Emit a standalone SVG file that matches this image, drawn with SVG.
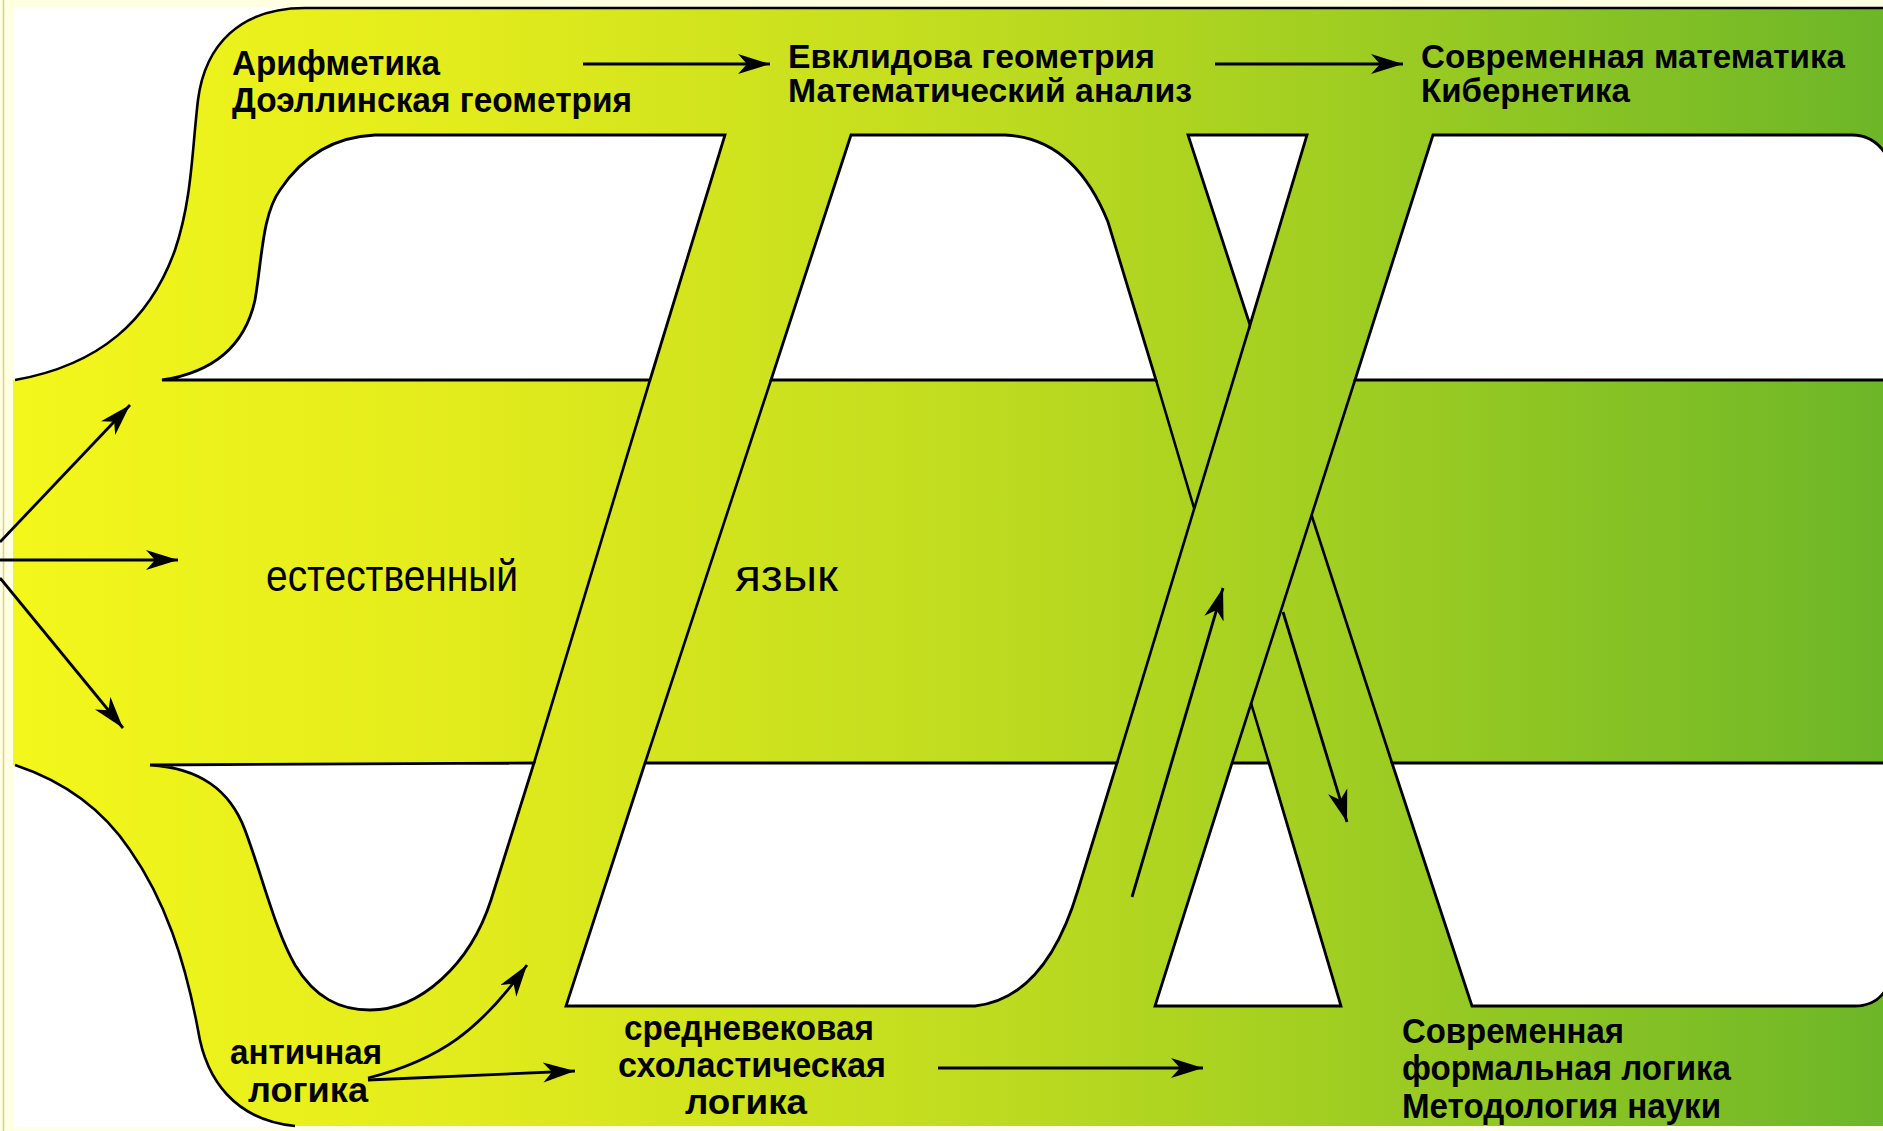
<svg xmlns="http://www.w3.org/2000/svg" width="1883" height="1131" viewBox="0 0 1883 1131">
<defs>
<linearGradient id="g" x1="0" y1="0" x2="1883" y2="0" gradientUnits="userSpaceOnUse">
<stop offset="0" stop-color="#F4F71B"/>
<stop offset="0.25" stop-color="#E2EB1C"/>
<stop offset="0.5" stop-color="#C2DD1F"/>
<stop offset="0.75" stop-color="#9ACB22"/>
<stop offset="1" stop-color="#6DB628"/>
</linearGradient>
<marker id="ah" markerUnits="userSpaceOnUse" markerWidth="36" markerHeight="24" refX="32" refY="10" orient="auto">
<path d="M0,0 L32,10 L0,20 L9,10 Z" fill="#000"/>
</marker>
<style>
.hole{fill:#fff;stroke:#000;stroke-width:2.8;stroke-linejoin:miter}
.edge{fill:none;stroke:#000;stroke-width:2.6}
.arr{fill:none;stroke:#000;stroke-width:2.8;marker-end:url(#ah)}
.lb{font-family:"Liberation Sans",Arial,sans-serif;font-weight:bold;font-size:35px;fill:#000}
.ls{font-family:"Liberation Sans",Arial,sans-serif;font-weight:bold;font-size:33px;fill:#000}
.lr{font-family:"Liberation Sans",Arial,sans-serif;font-size:45px;fill:#000}
</style>
</defs>
<rect x="0" y="0" width="1883" height="1131" fill="#FFFFE1"/>
<line x1="3.5" y1="0" x2="3.5" y2="1131" stroke="#DCCF90" stroke-width="1.5"/>
<rect x="13" y="7" width="1870" height="1120" fill="#fff"/>

<g id="shape">
<path d="M305,8 L1883,8 L1883,1126 L295,1126 C235,1120 206,1080 198,1030 C185,960 165,900 130,850 C100,805 60,780 15,765 L13,765 L13,380 L15,380 C100,365 150,320 175,250 C192,200 192,150 198,100 C205,45 240,8 305,8 Z" fill="url(#g)"/>
<path class="edge" d="M1883,8 L305,8 C240,8 205,45 198,100 C192,150 192,200 175,250 C150,320 100,365 15,380"/>
<path class="edge" d="M15,765 C60,780 100,805 130,850 C165,900 185,960 198,1030 C206,1080 235,1120 295,1126"/>
</g>

<g id="holes">
<path id="h1" class="hole" d="M162,380 C215,372 245,345 255,300 C262,260 262,215 280,190 C300,160 330,137 375,135 L725,135 L650,380 Z"/>
<path id="h2" class="hole" d="M851,135 L1005,135 C1050,137 1085,165 1108,222 L1156,380 L771,380 Z"/>
<path id="h3" class="hole" d="M1188,135 L1307,135 L1250,325 Z"/>
<path id="h4" class="hole" d="M1433,135 L1852,135 C1870,135 1882,145 1890,162 L1890,380 L1355,380 Z"/>
<path id="h5" class="hole" d="M150,765 C200,768 230,790 245,830 C262,875 275,930 295,965 C315,998 340,1010 370,1010 C420,1010 470,965 491,900 L534,763 Z"/>
<path id="h6" class="hole" d="M645,763 L1117,763 L1078,890 C1060,950 1030,1000 975,1006 L566,1006 Z"/>
<path id="h7" class="hole" d="M1232,763 L1269,763 L1341,1006 L1155,1006 Z"/>
<path id="h8" class="hole" d="M1392,763 L1890,763 L1890,980 C1884,998 1872,1006 1855,1006 L1472,1006 Z"/>
</g>

<g id="band-edges">
<line class="edge" x1="650" y1="380" x2="534" y2="763"/>
<line class="edge" x1="771" y1="380" x2="645" y2="763"/>
<line class="edge" x1="1156" y1="380" x2="1194" y2="508"/>
<line class="edge" x1="1251" y1="703" x2="1269" y2="763"/>
<line class="edge" x1="1311.5" y1="515" x2="1392" y2="763"/>
<line class="edge" x1="1250" y1="325" x2="1117" y2="763"/>
<line class="edge" x1="1355" y1="380" x2="1232" y2="763"/>
</g>

<g id="connectors">
<line class="arr" x1="583" y1="64" x2="770" y2="64"/>
<line class="arr" x1="1215" y1="64" x2="1403" y2="64"/>
<line class="arr" x1="0" y1="542" x2="130" y2="405"/>
<line class="arr" x1="0" y1="560" x2="178" y2="560"/>
<line class="arr" x1="0" y1="578" x2="123" y2="728"/>
<path class="arr" d="M368,1078 C440,1060 480,1030 527,965"/>
<line class="arr" x1="368" y1="1080" x2="575" y2="1071"/>
<line class="arr" x1="938" y1="1068" x2="1203" y2="1068"/>
<line class="arr" x1="1132" y1="897" x2="1223" y2="588"/>
<line class="arr" x1="1283" y1="612" x2="1347" y2="822"/>
</g>

<g id="n-arith"><text class="lb" x="232" y="75" textLength="208" lengthAdjust="spacingAndGlyphs">Арифметика</text><text class="lb" x="232" y="112" textLength="400" lengthAdjust="spacingAndGlyphs">Доэллинская геометрия</text></g>
<g id="n-eucl"><text class="ls" x="788" y="68" textLength="367" lengthAdjust="spacingAndGlyphs">Евклидова геометрия</text><text class="ls" x="788" y="102" textLength="404" lengthAdjust="spacingAndGlyphs">Математический анализ</text></g>
<g id="n-modmath"><text class="ls" x="1421" y="68" textLength="424" lengthAdjust="spacingAndGlyphs">Современная математика</text><text class="ls" x="1421" y="102" textLength="209" lengthAdjust="spacingAndGlyphs">Кибернетика</text></g>
<g id="n-lang"><text class="lr" x="266" y="591" textLength="252" lengthAdjust="spacingAndGlyphs">естественный</text><text class="lr" x="735" y="591" textLength="103" lengthAdjust="spacingAndGlyphs">язык</text></g>
<g id="n-antic"><text class="lb" x="230" y="1064" textLength="152" lengthAdjust="spacingAndGlyphs">античная</text><text class="lb" x="248" y="1102" textLength="120" lengthAdjust="spacingAndGlyphs">логика</text></g>
<g id="n-medieval"><text class="lb" x="624" y="1040" textLength="250" lengthAdjust="spacingAndGlyphs">средневековая</text><text class="lb" x="618" y="1077" textLength="268" lengthAdjust="spacingAndGlyphs">схоластическая</text><text class="lb" x="685" y="1114" textLength="122" lengthAdjust="spacingAndGlyphs">логика</text></g>
<g id="n-modlogic"><text class="lb" x="1402" y="1043" textLength="222" lengthAdjust="spacingAndGlyphs">Современная</text><text class="lb" x="1402" y="1080" textLength="329" lengthAdjust="spacingAndGlyphs">формальная логика</text><text class="lb" x="1402" y="1118" textLength="319" lengthAdjust="spacingAndGlyphs">Методология науки</text></g>
</svg>
